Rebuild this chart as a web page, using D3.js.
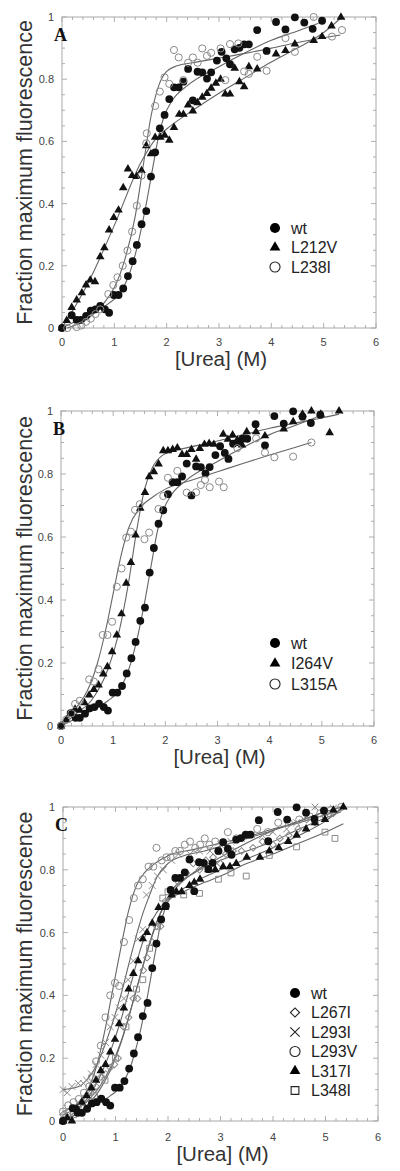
<!DOCTYPE html>
<html><head><meta charset="utf-8">
<script src="https://cdn.jsdelivr.net/npm/d3@7"></script>
<style>body{margin:0;background:#fff}</style>
</head><body><svg id="c" width="400" height="1171"></svg>
<script>
// ---------- tick labels ----------
const xTicks = [0,1,2,3,4,5,6];
const yTicks = [0,0.2,0.4,0.6,0.8,1];
const yTickLabels = ["0","0.2","0.4","0.6","0.8","1"];
const panelLetters = ["A","B","C"];
const xTitle = "[Urea] (M)";
const yTitle = "Fraction maximum fluorescence";

// ---------- data: [urea M, fraction] ----------
const wt = [[0,0],[0.185,0.041],[0.28,0.026],[0.36,0.026],[0.46,0.039],[0.55,0.056],[0.64,0.06],[0.73,0.071],[0.82,0.06],[0.9,0.049],[0.99,0.106],[1.08,0.106],[1.17,0.127],[1.26,0.167],[1.35,0.215],[1.43,0.267],[1.52,0.334],[1.61,0.376],[1.70,0.487],[1.78,0.565],[1.87,0.642],[1.96,0.685],[2.05,0.736],[2.14,0.774],[2.23,0.774],[2.32,0.792],[2.41,0.833],[2.5,0.732],[2.59,0.824],[2.68,0.822],[2.77,0.802],[2.85,0.822],[2.96,0.86],[3.05,0.888],[3.14,0.867],[3.21,0.848],[3.30,0.896],[3.39,0.901],[3.48,0.912],[3.57,0.912],[3.73,0.958],[3.91,0.891],[4.09,0.984],[4.27,0.96],[4.45,0.999],[4.63,0.982],[4.79,0.962],[4.97,0.988]];
const wtFit = [[0,0],[0.3,0.025],[0.6,0.05],[0.9,0.08],[1.1,0.11],[1.3,0.18],[1.45,0.27],[1.6,0.39],[1.75,0.53],[1.85,0.62],[1.95,0.68],[2.1,0.73],[2.4,0.78],[3.0,0.84],[3.5,0.885],[4.0,0.925],[4.5,0.955],[4.9,0.98]];

const L212V = [[0,0],[0.09,0.024],[0.185,0.066],[0.28,0.09],[0.38,0.113],[0.46,0.138],[0.54,0.154],[0.63,0.149],[0.73,0.229],[0.81,0.258],[0.90,0.315],[0.99,0.355],[1.08,0.379],[1.17,0.451],[1.26,0.511],[1.34,0.49],[1.43,0.487],[1.52,0.506],[1.61,0.586],[1.70,0.56],[1.78,0.613],[1.88,0.613],[1.96,0.62],[2.05,0.604],[2.14,0.645],[2.24,0.687],[2.32,0.687],[2.41,0.717],[2.5,0.698],[2.59,0.724],[2.68,0.742],[2.77,0.754],[2.85,0.771],[2.94,0.787],[3.03,0.8],[3.12,0.752],[3.21,0.752],[3.30,0.835],[3.39,0.792],[3.48,0.776],[3.57,0.84],[3.73,0.833],[4.09,0.881],[4.27,0.892],[4.45,0.913],[4.81,0.924],[4.97,0.937],[5.15,0.971],[5.33,0.999]];
const L212VFit = [[0,0],[0.5,0.145],[1.0,0.33],[1.5,0.53],[1.8,0.61],[2.0,0.64],[2.5,0.70],[3.0,0.755],[3.5,0.805],[4.0,0.855],[4.5,0.9],[5.0,0.95],[5.35,1.0]];

const L238I = [[0.1,0.0],[0.28,0.003],[0.37,0.008],[0.46,0.02],[0.55,0.03],[0.64,0.045],[0.73,0.06],[0.885,0.109],[0.98,0.138],[1.06,0.163],[1.16,0.2],[1.25,0.249],[1.34,0.31],[1.43,0.393],[1.52,0.49],[1.61,0.594],[1.62,0.626],[1.78,0.714],[1.87,0.76],[1.96,0.806],[2.05,0.785],[2.14,0.894],[2.23,0.870],[2.32,0.797],[2.41,0.853],[2.50,0.870],[2.59,0.853],[2.68,0.899],[2.77,0.875],[2.85,0.885],[3.03,0.899],[3.12,0.797],[3.21,0.913],[3.37,0.915],[3.48,0.825],[3.57,0.817],[3.73,0.872],[3.91,0.827],[4.27,0.932],[4.45,0.888],[4.81,1.0],[5.16,0.937],[5.35,0.958]];
const L238IFit = [[0.1,0],[0.5,0.03],[0.8,0.08],[1.0,0.13],[1.2,0.22],[1.4,0.36],[1.55,0.52],[1.7,0.68],[1.85,0.78],[2.0,0.825],[2.2,0.843],[2.5,0.853],[3.0,0.868],[3.5,0.883],[4.0,0.9],[4.5,0.918],[5.32,0.942]];

const I264V = [[0,0],[0.1,0.02],[0.2,0.04],[0.27,0.053],[0.36,0.05],[0.45,0.074],[0.54,0.098],[0.63,0.116],[0.72,0.13],[0.81,0.165],[0.89,0.188],[0.98,0.236],[1.07,0.289],[1.16,0.356],[1.25,0.453],[1.34,0.519],[1.43,0.606],[1.52,0.691],[1.61,0.741],[1.69,0.791],[1.78,0.807],[1.87,0.832],[1.96,0.874],[2.05,0.874],[2.14,0.878],[2.23,0.883],[2.32,0.862],[2.41,0.862],[2.50,0.878],[2.59,0.847],[2.66,0.881],[2.75,0.894],[2.84,0.897],[2.93,0.894],[3.11,0.926],[3.20,0.91],[3.29,0.924],[3.38,0.908],[3.47,0.892],[3.56,0.934],[3.74,0.934],[3.91,0.921],[4.27,0.943],[4.45,0.966],[4.63,0.99],[4.80,1.0],[4.98,0.99],[5.15,0.931],[5.33,1.0]];
const I264VFit = [[0,0],[0.3,0.04],[0.6,0.085],[0.9,0.18],[1.1,0.29],[1.3,0.46],[1.45,0.62],[1.6,0.75],[1.75,0.82],[1.95,0.86],[2.2,0.875],[2.6,0.89],[3.0,0.905],[3.5,0.925],[4.0,0.945],[4.5,0.962],[5.0,0.978],[5.33,0.99]];

const L315A = [[0,0.0],[0.1,0.02],[0.2,0.04],[0.27,0.07],[0.36,0.08],[0.54,0.148],[0.63,0.141],[0.72,0.18],[0.80,0.289],[0.89,0.289],[0.98,0.331],[1.07,0.442],[1.16,0.5],[1.25,0.598],[1.34,0.617],[1.42,0.686],[1.51,0.704],[1.60,0.593],[1.69,0.614],[1.87,0.689],[1.96,0.73],[2.05,0.788],[2.23,0.81],[2.41,0.741],[2.59,0.742],[2.68,0.765],[2.76,0.781],[2.85,0.758],[3.03,0.776],[3.12,0.758],[3.38,0.882],[3.74,0.913],[3.91,0.868],[4.09,0.853],[4.45,0.855],[4.80,0.9]];
const L315AFit = [[0,0],[0.3,0.06],[0.5,0.11],[0.7,0.2],[0.85,0.3],[1.0,0.42],[1.15,0.54],[1.3,0.63],[1.5,0.69],[1.7,0.72],[2.0,0.752],[2.5,0.78],[3.0,0.807],[3.5,0.834],[4.0,0.86],[4.5,0.885],[4.8,0.9]];

const L267I = [[0,0.02],[0.1,0.03],[0.2,0.04],[0.3,0.05],[0.45,0.07],[0.54,0.09],[0.63,0.11],[0.72,0.14],[0.81,0.15],[0.9,0.17],[0.98,0.18],[1.05,0.20],[1.15,0.30],[1.25,0.33],[1.34,0.39],[1.42,0.39],[1.53,0.48],[1.60,0.52],[1.70,0.57],[1.78,0.62],[1.86,0.62],[1.95,0.70],[2.05,0.73],[2.2,0.76],[2.35,0.79],[2.48,0.82],[2.6,0.80],[2.72,0.83],[2.86,0.84],[3.0,0.82],[3.1,0.85],[3.24,0.86],[3.4,0.86],[3.62,0.87],[3.8,0.89],[4.0,0.88],[4.13,0.90],[4.3,0.91],[4.48,0.93],[4.64,0.96],[4.8,0.95],[4.99,0.97],[5.15,0.98]];
const L267IFit = [[0,0.02],[0.3,0.045],[0.5,0.07],[0.7,0.11],[0.9,0.17],[1.1,0.25],[1.3,0.36],[1.5,0.48],[1.7,0.59],[1.9,0.68],[2.1,0.74],[2.5,0.79],[3.0,0.83],[3.5,0.86],[4.0,0.89],[4.5,0.93],[5.0,0.965],[5.3,0.985]];

const L293I = [[0,0.10],[0.08,0.09],[0.17,0.11],[0.29,0.12],[0.39,0.12],[0.45,0.13],[0.54,0.15],[0.63,0.18],[0.72,0.21],[0.81,0.25],[0.90,0.30],[0.99,0.33],[1.07,0.36],[1.16,0.39],[1.24,0.45],[1.34,0.51],[1.43,0.58],[1.52,0.61],[1.59,0.72],[1.7,0.75],[1.8,0.78],[1.91,0.80],[2.07,0.83],[2.2,0.85],[2.42,0.85],[2.6,0.86],[2.8,0.86],[3.0,0.88],[3.2,0.89],[3.4,0.90],[3.6,0.91],[3.8,0.91],[4.0,0.92],[4.26,0.93],[4.45,0.95],[4.63,0.97],[4.8,1.0],[4.99,0.98],[5.15,0.996]];
const L293IFit = [[0,0.10],[0.3,0.11],[0.5,0.14],[0.7,0.20],[0.9,0.29],[1.1,0.40],[1.3,0.53],[1.5,0.65],[1.65,0.72],[1.8,0.78],[2.0,0.82],[2.3,0.845],[2.7,0.86],[3.0,0.875],[3.5,0.90],[4.0,0.925],[4.5,0.955],[5.0,0.985],[5.3,1.0]];

const L293V = [[0.0,0.03],[0.1,0.05],[0.2,0.06],[0.3,0.07],[0.4,0.09],[0.5,0.11],[0.55,0.14],[0.63,0.19],[0.72,0.24],[0.81,0.33],[0.9,0.40],[0.99,0.44],[1.07,0.43],[1.16,0.57],[1.26,0.64],[1.35,0.71],[1.43,0.75],[1.52,0.77],[1.63,0.81],[1.72,0.81],[1.78,0.87],[1.88,0.83],[1.97,0.84],[2.05,0.84],[2.14,0.86],[2.23,0.86],[2.32,0.88],[2.42,0.89],[2.52,0.87],[2.61,0.88],[2.7,0.90],[2.79,0.88],[2.9,0.89],[2.96,0.86],[3.14,0.92],[3.3,0.90],[3.5,0.91],[3.7,0.93],[3.9,0.92],[4.1,0.95],[4.3,0.95],[4.5,0.96],[4.7,0.97],[4.9,0.98],[5.1,0.99],[5.3,1.0]];
const L293VFit = [[0,0.03],[0.3,0.06],[0.5,0.11],[0.65,0.18],[0.8,0.29],[0.95,0.42],[1.1,0.55],[1.25,0.67],[1.4,0.75],[1.55,0.79],[1.75,0.82],[2.0,0.845],[2.5,0.865],[3.0,0.885],[3.5,0.905],[4.0,0.93],[4.5,0.95],[5.0,0.975],[5.3,0.99]];

const L317I = [[0,0.0],[0.08,0.01],[0.17,0.0],[0.27,0.04],[0.36,0.06],[0.45,0.08],[0.54,0.105],[0.63,0.13],[0.72,0.16],[0.81,0.18],[0.90,0.22],[0.99,0.26],[1.07,0.31],[1.16,0.36],[1.25,0.42],[1.34,0.47],[1.43,0.51],[1.52,0.58],[1.60,0.60],[1.70,0.63],[1.82,0.68],[1.94,0.68],[2.07,0.72],[2.16,0.73],[2.26,0.73],[2.41,0.75],[2.5,0.76],[2.61,0.77],[2.77,0.80],[2.9,0.80],[3.05,0.81],[3.18,0.81],[3.3,0.82],[3.50,0.84],[3.75,0.84],[3.93,0.86],[4.11,0.87],[4.29,0.89],[4.45,0.91],[4.63,0.93],[4.80,0.95],[4.99,0.96],[5.15,0.99],[5.34,1.0]];
const L317IFit = [[0,0.0],[0.3,0.04],[0.5,0.08],[0.7,0.14],[0.9,0.22],[1.1,0.32],[1.3,0.44],[1.5,0.56],[1.7,0.64],[1.9,0.69],[2.2,0.73],[2.6,0.77],[3.0,0.80],[3.5,0.835],[4.0,0.87],[4.5,0.91],[5.0,0.955],[5.34,1.0]];

const L348I = [[0,0.0],[0.2,0.02],[0.4,0.04],[0.6,0.08],[0.8,0.13],[1.0,0.2],[1.2,0.3],[1.4,0.42],[1.52,0.45],[1.65,0.55],[1.8,0.62],[1.9,0.71],[2.0,0.73],[2.3,0.72],[2.6,0.725],[2.96,0.77],[3.2,0.79],[3.49,0.78],[3.93,0.846],[4.45,0.873],[4.99,0.92],[5.18,0.9]];
const L348IFit = [[0,0.0],[0.4,0.04],[0.7,0.1],[1.0,0.2],[1.2,0.3],[1.4,0.42],[1.6,0.54],[1.8,0.64],[2.0,0.70],[2.3,0.73],[2.7,0.76],[3.0,0.78],[3.5,0.82],[4.0,0.85],[4.5,0.885],[5.0,0.92],[5.34,0.947]];

// ---------- styles ----------
const markStyle = {
  wt:    {sym: d3.symbolCircle,   size: 48, lsize: 80, rot: 0,  fill: "#111", stroke: "none"},
  L212V: {sym: d3.symbolTriangle, size: 32, lsize: 50, rot: 0,  fill: "#111", stroke: "none"},
  L238I: {sym: d3.symbolCircle,   size: 40, lsize: 80, rot: 0,  fill: "none", stroke: "#8a8a8a"},
  I264V: {sym: d3.symbolTriangle, size: 32, lsize: 50, rot: 0,  fill: "#111", stroke: "none"},
  L315A: {sym: d3.symbolCircle,   size: 40, lsize: 80, rot: 0,  fill: "none", stroke: "#8a8a8a"},
  L267I: {sym: d3.symbolSquare,   size: 22, lsize: 42, rot: 45, fill: "none", stroke: "#8a8a8a"},
  L293I: {sym: d3.symbolTimes,    size: 32, lsize: 60, rot: 0,  fill: "none", stroke: "#8a8a8a"},
  L293V: {sym: d3.symbolCircle,   size: 40, lsize: 80, rot: 0,  fill: "none", stroke: "#8a8a8a"},
  L317I: {sym: d3.symbolTriangle, size: 32, lsize: 50, rot: 0,  fill: "#111", stroke: "none"},
  L348I: {sym: d3.symbolSquare,   size: 34, lsize: 60, rot: 0,  fill: "none", stroke: "#8a8a8a"}
};

const panels = [
  {letter: panelLetters[0], box:{l:62,r:376,t:17,b:328}, xtickY:342, xlabY:366,
   series:[["wt",wt,wtFit],["L212V",L212V,L212VFit],["L238I",L238I,L238IFit]],
   legend:{x:275,y:228,dy:19.5,tx:291}},
  {letter: panelLetters[1], box:{l:61,r:374,t:411,b:726}, xtickY:740, xlabY:764,
   series:[["wt",wt,wtFit],["I264V",I264V,I264VFit],["L315A",L315A,L315AFit]],
   legend:{x:275,y:643,dy:20.5,tx:291}},
  {letter: panelLetters[2], box:{l:63,r:378,t:807,b:1121}, xtickY:1137, xlabY:1161,
   series:[["L348I",L348I,L348IFit],["L267I",L267I,L267IFit],["L293I",L293I,L293IFit],["L293V",L293V,L293VFit],["L317I",L317I,L317IFit],["wt",wt,wtFit]],
   legendOrder:["wt","L267I","L293I","L293V","L317I","L348I"],
   legend:{x:295,y:993,dy:19.5,tx:311}}
];

const svg = d3.select("#c");
const font = "Liberation Sans, Arial, Helvetica, sans-serif";

panels.forEach(p => {
  const B = p.box;
  const x = d3.scaleLinear().domain([0,6]).range([B.l,B.r]);
  const y = d3.scaleLinear().domain([0,1]).range([B.b,B.t]);
  const g = svg.append("g");

  // minor/major ticks inside, mirrored
  const tk = g.append("g").attr("stroke","#9a9a9a").attr("stroke-width",0.8);
  d3.range(0,6.001,0.2).forEach(v=>{
    const major = Math.abs(v-Math.round(v))<1e-6;
    const len = major?5:3;
    tk.append("line").attr("x1",x(v)).attr("x2",x(v)).attr("y1",B.b).attr("y2",B.b-len);
    tk.append("line").attr("x1",x(v)).attr("x2",x(v)).attr("y1",B.t).attr("y2",B.t+len);
  });
  d3.range(0,1.0001,0.05).forEach(v=>{
    const major = Math.abs(v*5-Math.round(v*5))<1e-6;
    const len = major?5:3;
    tk.append("line").attr("y1",y(v)).attr("y2",y(v)).attr("x1",B.l).attr("x2",B.l+len);
    tk.append("line").attr("y1",y(v)).attr("y2",y(v)).attr("x1",B.r).attr("x2",B.r-len);
  });
  g.append("rect").attr("x",B.l).attr("y",B.t).attr("width",B.r-B.l).attr("height",B.b-B.t)
    .attr("fill","none").attr("stroke","#a8a8a8").attr("stroke-width",1);

  // tick labels
  g.selectAll(".xt").data(xTicks).enter().append("text")
    .attr("x",d=>x(d)).attr("y",p.xtickY+4).attr("text-anchor","middle")
    .attr("font-family",font).attr("font-size",11).attr("fill","#444").text(d=>d);
  g.selectAll(".yt").data(yTicks).enter().append("text")
    .attr("x",B.l-8).attr("y",d=>y(d)+4).attr("text-anchor","end")
    .attr("font-family",font).attr("font-size",11).attr("fill","#444").text((d,i)=>yTickLabels[i]);

  // axis titles
  g.append("text").attr("x",(B.l+B.r)/2+2).attr("y",p.xlabY).attr("text-anchor","middle")
    .attr("font-family",font).attr("font-size",20.5).attr("fill","#333").text(xTitle);
  g.append("text").attr("transform",`translate(32,${(B.t+B.b)/2}) rotate(-90)`)
    .attr("text-anchor","middle").attr("font-family",font).attr("font-size",21.5).attr("fill","#333").text(yTitle);

  // panel letter
  g.append("text").attr("x",B.l-8).attr("y",B.t+24).attr("font-family","Liberation Serif, Times New Roman, serif")
    .attr("font-weight","bold").attr("font-size",18).attr("fill","#111").text(p.letter);

  // fit curves
  const line = d3.line().x(d=>x(d[0])).y(d=>y(d[1])).curve(d3.curveMonotoneX);
  p.series.forEach(([name,data,fit])=>{
    g.append("path").attr("d",line(fit)).attr("fill","none").attr("stroke","#666").attr("stroke-width",1.1);
  });
  // markers
  p.series.forEach(([name,data,fit])=>{
    const s = markStyle[name];
    g.append("g").selectAll("path").data(data).enter().append("path")
      .attr("transform",d=>`translate(${x(d[0])},${y(d[1])}) rotate(${s.rot})`)
      .attr("d",d3.symbol().type(s.sym).size(s.size))
      .attr("fill",s.fill).attr("stroke",s.stroke).attr("stroke-width",1);
  });

  // legend
  const order = p.legendOrder || p.series.map(s=>s[0]);
  order.forEach((name,i)=>{
    const s = markStyle[name];
    const ly = p.legend.y + i*p.legend.dy;
    const filled = s.fill !== "none";
    g.append("path").attr("transform",`translate(${p.legend.x},${ly}) rotate(${s.rot})`)
      .attr("d",d3.symbol().type(s.sym).size(s.lsize))
      .attr("fill",filled?"#000":"none").attr("stroke",filled?"none":"#222").attr("stroke-width",1.1);
    g.append("text").attr("x",p.legend.tx).attr("y",ly+5.5).attr("font-family",font)
      .attr("font-size",16).attr("fill","#222").text(name);
  });
});
</script></body></html>
